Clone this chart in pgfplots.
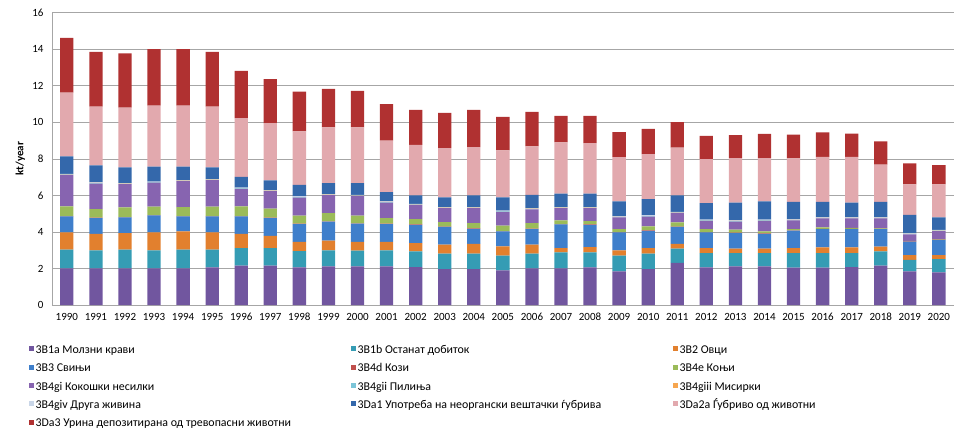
\documentclass[border=0pt]{standalone}
\usepackage{fontspec}
\setmainfont{Carlito}
\usepackage{pgfplots}
\usepackage{pgfplotstable}
\pgfplotsset{compat=1.18}

\definecolor{cA}{HTML}{71569F}
\definecolor{cB}{HTML}{359CB4}
\definecolor{cC}{HTML}{E2802E}
\definecolor{cD}{HTML}{3F7FCB}
\definecolor{cE}{HTML}{C0504D}
\definecolor{cF}{HTML}{9BBB59}
\definecolor{cG}{HTML}{8764B0}
\definecolor{cH}{HTML}{7CC5D8}
\definecolor{cI}{HTML}{F6A650}
\definecolor{cJ}{HTML}{C9D6E8}
\definecolor{cK}{HTML}{3468AB}
\definecolor{cL}{HTML}{E2A9AE}
\definecolor{cM}{HTML}{B03131}
\definecolor{gridc}{HTML}{A6A6A6}

\pgfplotstableread{
x a b c d e f g h i j k l m
0 2.00 1.03 0.94 0.88 0.02 0.53 1.72 0.02 0.01 0.03 0.95 3.50 2.99
1 2.00 0.99 0.91 0.86 0.02 0.47 1.40 0.02 0.01 0.03 0.93 3.22 2.99
2 2.00 1.03 0.91 0.85 0.02 0.53 1.27 0.02 0.01 0.03 0.86 3.28 2.97
3 2.00 0.99 0.98 0.93 0.02 0.46 1.32 0.02 0.01 0.03 0.82 3.34 3.08
4 2.00 1.03 1.00 0.82 0.02 0.49 1.42 0.02 0.01 0.03 0.74 3.34 3.08
5 2.06 0.97 0.94 0.88 0.02 0.51 1.45 0.02 0.01 0.03 0.64 3.33 2.99
6 2.15 0.97 0.78 0.95 0.02 0.53 0.96 0.02 0.01 0.03 0.60 3.21 2.58
7 2.15 0.97 0.67 0.97 0.02 0.49 0.96 0.02 0.01 0.03 0.53 3.13 2.41
8 2.06 0.89 0.51 0.97 0.02 0.44 0.99 0.02 0.01 0.03 0.64 2.92 2.18
9 2.11 0.88 0.53 1.04 0.02 0.45 0.98 0.02 0.01 0.03 0.60 3.05 2.11
10 2.11 0.86 0.49 0.99 0.02 0.42 1.08 0.02 0.01 0.03 0.64 3.05 2.00
11 2.11 0.88 0.47 0.97 0.02 0.31 0.85 0.02 0.01 0.03 0.51 2.82 2.00
12 2.08 0.85 0.46 1.00 0.02 0.29 0.78 0.02 0.01 0.03 0.46 2.77 1.91
13 1.97 0.84 0.49 0.97 0.02 0.25 0.76 0.02 0.01 0.03 0.53 2.70 1.93
14 1.97 0.84 0.54 0.82 0.02 0.29 0.82 0.02 0.01 0.03 0.64 2.64 2.04
15 1.90 0.80 0.51 0.82 0.02 0.29 0.76 0.02 0.01 0.03 0.73 2.57 1.84
16 2.00 0.81 0.49 0.86 0.02 0.30 0.76 0.02 0.01 0.03 0.73 2.65 1.89
17 2.00 0.88 0.24 1.29 0.02 0.20 0.67 0.02 0.01 0.03 0.73 2.81 1.45
18 2.06 0.82 0.29 1.22 0.02 0.18 0.71 0.02 0.01 0.03 0.73 2.77 1.49
19 1.84 0.86 0.29 0.98 0.02 0.17 0.63 0.02 0.01 0.03 0.82 2.42 1.37
20 1.97 0.84 0.31 0.94 0.02 0.22 0.54 0.02 0.01 0.03 0.90 2.46 1.38
21 2.30 0.78 0.27 0.92 0.02 0.23 0.52 0.02 0.01 0.03 0.90 2.62 1.39
22 2.06 0.78 0.28 0.85 0.02 0.17 0.45 0.02 0.01 0.03 0.91 2.40 1.28
23 2.11 0.73 0.24 0.86 0.02 0.16 0.45 0.02 0.01 0.03 0.98 2.43 1.26
24 2.11 0.73 0.24 0.82 0.02 0.11 0.58 0.02 0.01 0.03 1.00 2.37 1.33
25 2.04 0.80 0.27 0.96 0.02 0.07 0.47 0.02 0.01 0.03 0.96 2.37 1.31
26 2.04 0.80 0.31 1.00 0.02 0.08 0.49 0.02 0.01 0.03 0.85 2.46 1.34
27 2.07 0.77 0.31 1.00 0.02 0.05 0.52 0.02 0.01 0.03 0.80 2.51 1.27
28 2.16 0.77 0.27 0.95 0.02 0.03 0.54 0.02 0.01 0.03 0.85 2.04 1.27
29 1.84 0.63 0.26 0.74 0.02 0.02 0.36 0.02 0.01 0.03 1.00 1.67 1.15
30 1.78 0.73 0.22 0.83 0.02 0.02 0.45 0.02 0.01 0.03 0.69 1.80 1.05
}\data

\newcommand{\LE}[1]{\makebox[315.5pt][l]{#1}}

\begin{document}
\fontsize{11}{13}\selectfont
\begin{tikzpicture}
\useasboundingbox (0,0) rectangle (956pt,432pt);
\begin{axis}[
  at={(52.3pt,127pt)}, anchor=south west,
  scale only axis, width=901.7pt, height=292.3pt,
  ybar stacked, bar width=13.3pt,
  xmin=-0.5, xmax=30.52, ymin=0, ymax=16,
  ytick={0,2,...,16},
  xtick={0,...,30},
  xticklabel={\pgfmathparse{int(\tick+1990)}\pgfmathresult},
  /pgf/number format/assume math mode=true,
  ymajorgrids, grid style={gridc, line width=0.7pt},
  axis lines*=left, axis line style={-, gridc, line width=0.7pt},
  major tick length=0pt,
  tick label style={font=\fontsize{11}{13}\selectfont, text=black},
  yticklabel style={xshift=-5pt},
  xticklabel style={yshift=-4pt},
  every axis y label/.style={at={(axis description cs:-0.0353,0.5)}, rotate=90, anchor=center},
  ylabel={\textbf{kt/year}},
  legend columns=3,
  legend cell align=left,
  legend image code/.code={\fill[#1] (0pt,0pt) rectangle (5pt,5pt);},
  legend style={at={(axis description cs:-0.0258,-0.127)}, anchor=north west,
    draw=none, inner sep=0pt, outer sep=0pt, row sep=0pt,
    nodes={inner sep=0pt, text height=11.35pt, text depth=7pt},
    /tikz/every odd column/.append style={column sep=1.5pt},
    font=\fontsize{11.9}{14}\selectfont},
]
\addplot[fill=cA, draw=none] table[x=x,y=a]{\data}; \addlegendentry{\LE{3B1a Молзни крави}}
\addplot[fill=cB, draw=none] table[x=x,y=b]{\data}; \addlegendentry{\LE{3B1b Останат добиток}}
\addplot[fill=cC, draw=none] table[x=x,y=c]{\data}; \addlegendentry{\LE{3B2 Овци}}
\addplot[fill=cD, draw=none] table[x=x,y=d]{\data}; \addlegendentry{\LE{3B3 Свињи}}
\addplot[fill=cE, draw=none] table[x=x,y=e]{\data}; \addlegendentry{\LE{3B4d Кози}}
\addplot[fill=cF, draw=none] table[x=x,y=f]{\data}; \addlegendentry{\LE{3B4e Коњи}}
\addplot[fill=cG, draw=none] table[x=x,y=g]{\data}; \addlegendentry{\LE{3B4gi Кокошки несилки}}
\addplot[fill=cH, draw=none] table[x=x,y=h]{\data}; \addlegendentry{\LE{3B4gii Пилиња}}
\addplot[fill=cI, draw=none] table[x=x,y=i]{\data}; \addlegendentry{\LE{3B4giii Мисирки}}
\addplot[fill=cJ, draw=none] table[x=x,y=j]{\data}; \addlegendentry{\LE{3B4giv Друга живина}}
\addplot[fill=cK, draw=none] table[x=x,y=k]{\data}; \addlegendentry{\LE{3Da1 Употреба на неоргански вештачки ѓубрива}}
\addplot[fill=cL, draw=none] table[x=x,y=l]{\data}; \addlegendentry{\LE{3Da2a Ѓубриво од животни}}
\addplot[fill=cM, draw=none] table[x=x,y=m]{\data}; \addlegendentry{\LE{3Da3 Урина депозитирана од тревопасни животни}}
\end{axis}
\end{tikzpicture}
\end{document}
